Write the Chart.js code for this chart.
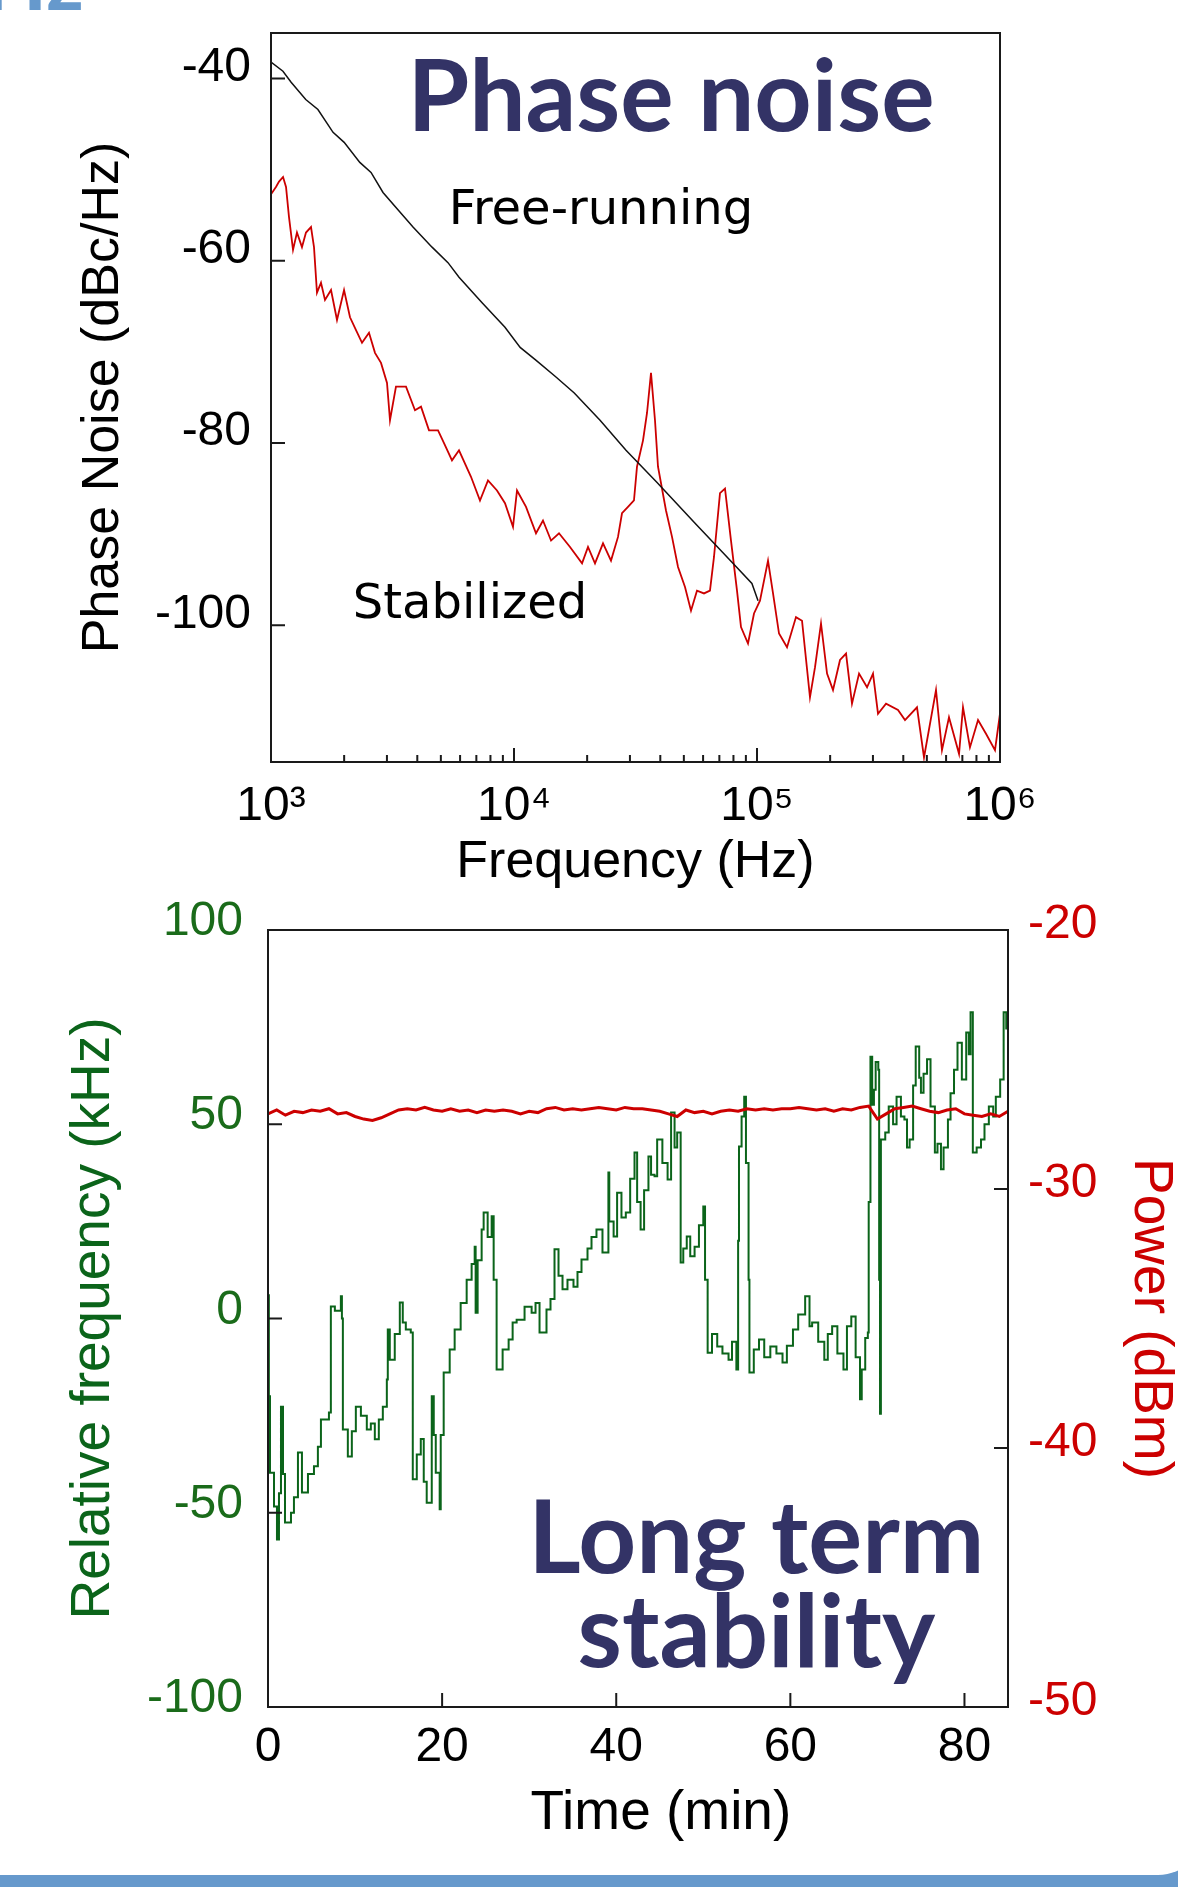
<!DOCTYPE html>
<html>
<head>
<meta charset="utf-8">
<script src="https://cdn.jsdelivr.net/npm/chart.js@4.4.0/dist/chart.umd.min.js"></script>
<style>
  html, body { margin: 0; padding: 0; background: #fff; }
  body { width: 1178px; height: 1887px; position: relative; overflow: hidden; }
  canvas { position: absolute; left: 0; }
  #noise { top: 0; }
  #drift { top: 900px; }
  .slide-title { position: absolute; left: -16px; top: -63px; font: bold 82px Lato; line-height: 82px; color: #6699cc; }
  .slide-bar { position: absolute; left: 0; bottom: 0; width: 1178px; height: 12px; background: #6699cc; }
  .slide-corner { position: absolute; right: -40px; bottom: 0; width: 110px; height: 80px; box-sizing: border-box;
    border-right: 12px solid #6699cc; border-bottom: 12px solid #6699cc; border-bottom-right-radius: 60px; }
</style>
</head>
<body>
<div class="slide-title">Hz</div>
<canvas id="noise" width="1178" height="900"></canvas>
<canvas id="drift" width="1178" height="987"></canvas>
<div class="slide-bar"></div>
<div class="slide-corner"></div>
<script>
// ---- phase noise (Hz, dBc/Hz) ----
const freeRunFreq = [1000, 1120, 1210, 1390, 1560, 1800, 2000, 2320, 2580, 2890, 3330, 3840, 4600, 5350,
  5940, 7390, 9180, 10600, 12300, 14800, 17700, 22600, 28900, 38700, 55600, 79600, 95300, 101000];
const freeRunNoise = [-38.2, -39.2, -40.4, -42.3, -43.4, -45.9, -47, -49.2, -50.3, -52.5, -54.4, -56.3, -58.5, -60.2,
  -61.8, -64.6, -67.3, -69.5, -70.9, -72.7, -74.5, -77.5, -80.8, -84.3, -88.8, -93.2, -95.4, -97.3];

const stabFreq = [1000, 1048, 1079, 1121, 1153, 1186, 1232, 1279, 1341, 1393,
  1461, 1503, 1546, 1606, 1668, 1766, 1869, 1998, 2114, 2238,
  2369, 2531, 2679, 2836, 3002, 3088, 3268, 3594, 3913, 4143,
  4469, 4868, 5152, 5557, 5938, 6653, 7245, 7816, 8511, 9183,
  9906, 10290, 11207, 12317, 13161, 14204, 15318, 17003, 19054, 20163,
  21544, 23245, 25073, 26792, 27826, 29450, 31167, 32074, 33959, 35268,
  36626, 38038, 39138, 42219, 44700, 47311, 50548, 53503, 56630, 60511,
  64053, 66530, 70423, 73845, 78163, 82735, 85937, 91830, 97202, 102870,
  111000, 116400, 123200, 132900, 144700, 153200, 165200, 173300, 183400, 194200,
  205500, 219600, 232500, 246000, 263000, 283700, 300200, 314800, 339600, 380400,
  406500, 455400, 486700, 545300, 577000, 616700, 678300, 704200, 752300, 812100,
  875800, 953700, 1000000];
const stabNoise = [-52.7, -51.9, -51.3, -50.8, -51.9, -55.2, -58.8, -56.9, -58.5, -56.9,
  -56.3, -58.5, -63.5, -62.4, -64.3, -63.2, -66.5, -63.2, -66.2, -67.6,
  -69, -67.9, -70.1, -71.2, -73.4, -77.5, -73.8, -73.8, -76.4, -76,
  -78.6, -78.6, -80, -81.9, -80.8, -83.7, -86.3, -84.1, -85.2, -86.6,
  -89.2, -85.2, -87, -89.9, -88.5, -90.7, -89.9, -91.4, -93.2, -91.4,
  -93.2, -91, -92.9, -90.3, -87.7, -87, -86.3, -82.6, -79.7, -76.7,
  -72.3, -77.5, -82.6, -87.4, -90.3, -93.6, -95.8, -98.4, -96.2, -96.5,
  -96.2, -92.5, -85.5, -85, -90.7, -96.2, -100.2, -102, -98.7, -97.3,
  -92.9, -96.5, -100.9, -102.4, -99.1, -99.5, -107.9, -104.6, -99.8, -105.3,
  -107.1, -103.8, -103.1, -108.6, -105.3, -106.8, -105.3, -109.7, -108.6, -109.3,
  -110.4, -109, -114.5, -107.1, -113.7, -110.1, -114.1, -109, -113.4, -110.4,
  -111.9, -113.7, -109.7];

const decadeTicks = [1e3, 1e4, 1e5, 1e6];
const decadeLabels = ['10³', '10⁴', '10⁵', '10⁶'];
const noiseTicks = [-100, -80, -60, -40];

// ---- long term stability (min, kHz, dBm) ----
const freqTime = [0, 0.1, 0.23, 0.69, 1.03, 1.26, 1.49, 1.72, 1.95, 2.64,
  2.98, 3.44, 3.9, 4.59, 5.28, 5.73, 6.08, 7.0, 7.22, 7.68,
  8.37, 8.49, 8.6, 9.17, 9.63, 10.09, 10.67, 11.35, 11.81, 12.27,
  12.73, 13.19, 13.65, 13.76, 13.99, 14.56, 15.14, 15.48, 15.83, 16.4,
  16.63, 17.09, 17.55, 17.89, 18.23, 18.81, 19.04, 19.27, 19.72, 19.84,
  20.18, 20.87, 21.44, 22.13, 22.82, 23.39, 23.74, 23.85, 24.08, 24.54,
  24.77, 25.23, 25.69, 25.92, 26.26, 26.95, 27.64, 28.1, 28.56, 29.47,
  30.28, 30.73, 31.19, 31.99, 32.45, 32.91, 33.37, 33.83, 34.4, 35.09,
  35.55, 36.01, 36.7, 37.16, 37.73, 38.42, 39.1, 39.2, 39.7, 40.1,
  40.6, 41.1, 41.6, 42.1, 42.4, 42.8, 43.2, 43.7, 44.0, 44.4,
  44.7, 45.3, 45.9, 46.3, 46.7, 47.0, 47.4, 47.7, 48.1, 48.5,
  49.0, 49.5, 50.0, 50.2, 50.5, 51.0, 51.6, 52.2, 52.9, 53.3,
  53.8, 54.0, 54.1, 54.4, 54.7, 54.9, 55.2, 55.3, 55.8, 56.4,
  57.0, 57.7, 58.4, 59.1, 59.6, 60.3, 60.9, 61.7, 62.2, 62.5,
  63.2, 63.9, 64.3, 64.8, 65.4, 66.1, 66.5, 67.0, 67.5, 68.0,
  68.2, 68.6, 68.9, 69.0, 69.2, 69.4, 69.6, 69.8, 70.1, 70.2,
  70.3, 70.4, 70.9, 71.3, 71.8, 72.2, 72.7, 73.1, 73.4, 73.7,
  74.1, 74.4, 74.8, 75.0, 75.3, 75.7, 76.1, 76.6, 76.9, 77.3,
  77.6, 78.1, 78.4, 78.8, 79.2, 79.7, 80.2, 80.5, 80.7, 80.96,
  81.4, 81.9, 82.3, 82.8, 83.3, 83.6, 84.1, 84.5, 84.8];
const relFreq = [6, -20, -39.7, -48.4, -56.9, -45, -22.7, -40, -52.5, -50,
  -46, -34.5, -44.8, -40, -38, -33, -26, -24.2, 3.1, 2,
  5.7, 0, -28.6, -35.5, -29, -22.7, -25, -28.6, -27, -31.1,
  -26, -22.7, -15.7, -2.8, -10.6, -4, 4.1, -1, -2.8, -3.6,
  -41.4, -35, -31, -42, -47.4, -20, -30, -39.7, -49.1, -30,
  -13.9, -8, -2.8, 4, 10, 14, 18.5, 1.5, 15, 22.9,
  27.3, 21, 26.3, 10, -13.1, -8, -5.4, -1, -0.3, 3,
  1.5, 4, -3.6, 2.3, 5, 17.8, 11, 7.5, 10, 8.2,
  12, 15.2, 18, 21, 22.9, 17, 37.6, 25, 21.1, 32.4,
  26, 27.3, 36, 42.7, 30, 22.9, 33, 41.7, 37, 36.6,
  46.1, 40, 35.8, 53, 44, 47.9, 14.4, 18, 21.1, 16,
  18.5, 24, 28.8, 10, -8.8, -4, -7.2, -9, -10.6, -6,
  -13.1, 20, 44.3, 52, 57.1, 40, 10, -13.9, -8, -5.4,
  -10, -7.2, -9, -11.3, -7, -2.8, 1, 5.7, -2, -1,
  -6, -10.6, -4, -2, -9, -13.1, -2, 0.5, -10, -20.8,
  -13.1, -5, -3.6, 30, 67.4, 55, 58.9, 66, 64, 10,
  -24.5, 46.1, 47.9, 54.6, 50, 57.1, 52, 51.2, 44, 46.1,
  60, 70, 62, 58.1, 63, 66.7, 54.6, 42.7, 45, 38.4,
  44, 51.2, 58, 64, 71, 61.5, 73.6, 68, 78.8, 42.7,
  44, 46.1, 50, 54.6, 52, 57.1, 61.5, 78.8, 74.4];

const powerTime = [0, 1, 2, 3, 4, 5, 6, 7, 8, 9, 10, 11, 12, 13, 14, 15, 16, 17, 18, 19,
  20, 21, 22, 23, 24, 25, 26, 27, 28, 29, 30, 31, 32, 33, 34, 35, 36, 37, 38, 39,
  40, 41, 42, 43, 44, 45, 46, 47, 48, 49, 50, 51, 52, 53, 54, 55, 56, 57, 58, 59,
  60, 61, 62, 63, 64, 65, 66, 67, 68, 69, 70, 71, 72, 73, 74, 75, 76, 77, 78, 79,
  80, 81, 82, 83, 84, 85];
const power = [-27.1, -26.95, -27.15, -27.0, -27.05, -26.95, -27.0, -26.9, -27.1, -27.05,
  -27.2, -27.3, -27.35, -27.25, -27.1, -26.95, -26.9, -26.95, -26.85, -26.95,
  -27.0, -26.9, -27.0, -26.95, -27.05, -26.95, -27.0, -26.95, -27.0, -27.1,
  -27.0, -27.05, -26.9, -26.85, -26.95, -26.9, -26.95, -26.9, -26.85, -26.9,
  -26.95, -26.85, -26.9, -26.9, -26.95, -27.0, -27.1, -27.2, -26.95, -27.05,
  -27.0, -27.1, -27.0, -26.95, -27.0, -26.9, -26.95, -26.9, -26.95, -26.9,
  -26.9, -26.85, -26.9, -26.95, -26.9, -27.0, -26.9, -26.95, -26.85, -26.8,
  -27.3, -27.1, -26.9, -26.85, -26.8, -26.9, -27.0, -27.05, -26.95, -26.9,
  -27.1, -27.15, -27.2, -27.1, -27.2, -27.0];

const timeTicks = [0, 20, 40, 60, 80];
const freqTicks = [-100, -50, 0, 50, 100];
const powerTicks = [-50, -40, -30, -20];

const NAVY = '#333366';
const GREEN = '#0b641a';
const RED = '#cc0000';

Chart.defaults.font.family = "'Liberation Sans', Arial, sans-serif";
Chart.defaults.color = '#000';

const topNotes = [
  { text: 'Phase noise', x: 44260, y: -45.8, font: 'bold 100px Lato', color: NAVY },
  { text: 'Free-running', x: 22800, y: -56.0, font: '48px "DejaVu Sans"', color: '#000' },
  { text: 'Stabilized', x: 6590, y: -99.2, font: '48px "DejaVu Sans"', color: '#000' }
];
const bottomNotes = [
  { text: 'Long term', x: 56.1, y: -65.4, font: 'bold 101px Lato', color: NAVY },
  { text: 'stability', x: 56.1, y: -89.8, font: 'bold 101px Lato', color: NAVY }
];

// box around plot, inward tick marks, text notes in data coords
const framePlugin = {
  id: 'frame',
  afterDatasetsDraw(chart, args, opts) {
    const { ctx, chartArea: a } = chart;
    ctx.save();
    ctx.strokeStyle = '#1a1a1a';
    ctx.lineWidth = 2;
    ctx.strokeRect(a.left, a.top, a.right - a.left, a.bottom - a.top);
    ctx.beginPath();
    Object.values(chart.scales).forEach(scale => {
      scale.ticks.forEach(tick => {
        const p = scale.getPixelForValue(tick.value);
        const len = tick.minor ? 7 : 14;
        if (scale.isHorizontal()) {
          if (p < a.left + 3 || p > a.right - 3) return;
          ctx.moveTo(p, a.bottom);
          ctx.lineTo(p, a.bottom - len);
        } else {
          if (p < a.top + 3 || p > a.bottom - 3) return;
          const right = scale.position === 'right';
          const edge = right ? a.right : a.left;
          ctx.moveTo(edge, p);
          ctx.lineTo(edge + (right ? -len : len), p);
        }
      });
    });
    ctx.stroke();
    ctx.textAlign = 'center';
    ctx.textBaseline = 'alphabetic';
    (opts.notes || []).forEach(n => {
      const x = chart.scales.x.getPixelForValue(n.x);
      const y = chart.scales.y.getPixelForValue(n.y);
      ctx.font = n.font;
      ctx.fillStyle = n.color;
      ctx.fillText(n.text, x, y);
    });
    ctx.restore();
  }
};

// fixed axis boxes so the plot area lands where the original has it
const fixWidth = w => scale => { scale.width = w; scale.paddingTop = 0; scale.paddingBottom = 0; };
const fixHeight = h => scale => { scale.height = h; scale.paddingLeft = 0; scale.paddingRight = 0; };
const setTicks = values => scale => { scale.ticks = values.map(v => ({ value: v })); };

function pts(xs, ys) {
  return xs.map((x, i) => ({ x: x, y: ys[i] }));
}

// top: phase noise
const noiseChart = new Chart(document.getElementById('noise'), {
  type: 'line',
  data: {
    datasets: [
      { label: 'Free-running', data: pts(freeRunFreq, freeRunNoise), borderColor: '#111', borderWidth: 1.5 },
      { label: 'Stabilized', data: pts(stabFreq, stabNoise), borderColor: RED, borderWidth: 1.8 }
    ]
  },
  options: {
    responsive: false,
    animation: false,
    events: [],
    elements: { point: { radius: 0 }, line: { tension: 0 } },
    layout: { padding: { left: 0, top: 33, right: 178, bottom: 0 } },
    plugins: {
      legend: { display: false },
      tooltip: { enabled: false },
      frame: { notes: topNotes }
    },
    scales: {
      x: {
        type: 'logarithmic',
        min: 1e3,
        max: 1e6,
        afterFit: fixHeight(138),
        afterBuildTicks: scale => {
          const ticks = [];
          decadeTicks.forEach((d, i) => {
            ticks.push({ value: d });
            if (i < decadeTicks.length - 1) {
              for (let m = 2; m < 10; m++) ticks.push({ value: d * m, minor: true });
            }
          });
          scale.ticks = ticks;
        },
        grid: { display: false, drawTicks: false },
        border: { display: false },
        ticks: {
          autoSkip: false,
          maxRotation: 0,
          padding: 16,
          font: { size: 48 },
          callback: value => {
            const i = decadeTicks.indexOf(value);
            return i >= 0 ? decadeLabels[i] : '';
          }
        },
        title: { display: true, text: 'Frequency (Hz)', font: { size: 52, lineHeight: 1 }, padding: { top: 0, bottom: 11 } }
      },
      y: {
        min: -115,
        max: -35,
        afterFit: fixWidth(271),
        afterBuildTicks: setTicks(noiseTicks),
        grid: { display: false, drawTicks: false },
        border: { display: false },
        ticks: { padding: 20, labelOffset: -11, font: { size: 48 } },
        title: { display: true, text: 'Phase Noise (dBc/Hz)', font: { size: 52, lineHeight: 1 }, padding: { top: 78, bottom: 0 } }
      }
    }
  },
  plugins: [framePlugin]
});

// bottom: long term stability
const driftChart = new Chart(document.getElementById('drift'), {
  type: 'line',
  data: {
    datasets: [
      { label: 'Power', data: pts(powerTime, power), yAxisID: 'yPower', borderColor: RED, borderWidth: 3 },
      { label: 'Relative frequency', data: pts(freqTime, relFreq), yAxisID: 'y', borderColor: GREEN, borderWidth: 2, stepped: true }
    ]
  },
  options: {
    responsive: false,
    animation: false,
    events: [],
    elements: { point: { radius: 0 }, line: { tension: 0 } },
    layout: { padding: { left: 0, top: 30, right: 0, bottom: 0 } },
    plugins: {
      legend: { display: false },
      tooltip: { enabled: false },
      frame: { notes: bottomNotes }
    },
    scales: {
      x: {
        type: 'linear',
        min: 0,
        max: 85,
        afterFit: fixHeight(180),
        afterBuildTicks: setTicks(timeTicks),
        grid: { display: false, drawTicks: false },
        border: { display: false },
        ticks: { autoSkip: false, maxRotation: 0, padding: 12, font: { size: 48 } },
        title: { display: true, text: '   Time (min)', font: { size: 55, lineHeight: 1 }, padding: { top: 0, bottom: 46 } }
      },
      y: {
        position: 'left',
        min: -100,
        max: 100,
        afterFit: fixWidth(268),
        afterBuildTicks: setTicks(freqTicks),
        grid: { display: false, drawTicks: false },
        border: { display: false },
        ticks: { padding: 25, labelOffset: -8, color: '#1a6b1a', font: { size: 48 } },
        title: { display: true, text: 'Relative frequency (kHz)', color: GREEN, font: { size: 55, lineHeight: 1 }, padding: { top: 66, bottom: 0 } }
      },
      yPower: {
        position: 'right',
        min: -50,
        max: -20,
        afterFit: fixWidth(170),
        afterBuildTicks: setTicks(powerTicks),
        grid: { display: false, drawTicks: false },
        border: { display: false },
        ticks: { padding: 20, labelOffset: -5, color: RED, font: { size: 48 } },
        title: { display: true, text: 'Power (dBm)', color: RED, font: { size: 55, lineHeight: 1 }, padding: { top: 0, bottom: 0 } }
      }
    }
  },
  plugins: [framePlugin]
});
</script>
</body>
</html>
